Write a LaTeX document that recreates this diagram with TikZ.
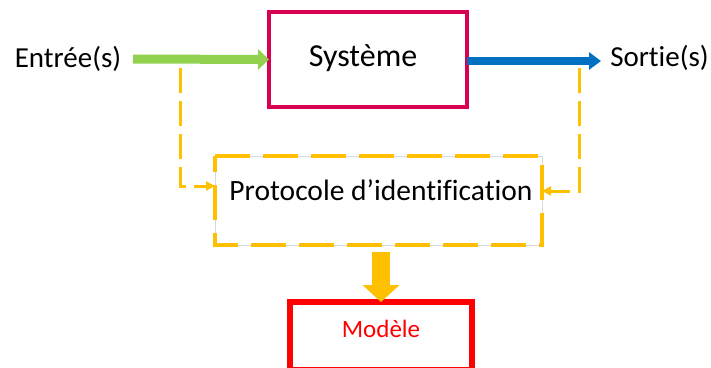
\documentclass[tikz,border=0pt]{standalone}
\usepackage{fontspec}
\setmainfont{Carlito}[Ligatures=NoCommon]
\usetikzlibrary{arrows.meta,calc}
\definecolor{sysred}{RGB}{216,0,80}
\definecolor{mgreen}{HTML}{92D050}
\definecolor{mblue}{HTML}{0070C0}
\definecolor{mgold}{HTML}{FFC000}
\definecolor{mred}{HTML}{FF0000}
\definecolor{lgray}{HTML}{D9D9D9}
\begin{document}
\begin{tikzpicture}[x=1pt,y=-1pt,
  box/.style={draw, rectangle, inner sep=0pt, outer sep=0pt},
  lbl/.style={anchor=base, inner sep=0pt, font=\fontsize{29}{34}\selectfont},
  fb/.style={line width=3pt, mgold, dash pattern=on 25pt off 8pt, -{Triangle[length=9pt,width=9pt]}}]
\fill[white] (0,0) rectangle (711,367);
\useasboundingbox (0,0) rectangle (711,367);
% boxes
\node[box, sysred, line width=4pt, minimum width=198pt, minimum height=95pt] (sys) at (368,59.5) {};
\node[box, lgray, line width=1pt, minimum width=327pt, minimum height=89pt] (proto) at (378.5,200.5) {};
\draw[mgold, line width=4pt, dash pattern=on 35pt off 13pt] (proto.north west) -- (proto.north east) -- (proto.south east) -- (proto.south west) -- cycle;
\node[box, mred, line width=6pt, minimum width=182pt, minimum height=68pt] (mod) at (381,336) {};
% texts
\node[lbl] (in) at (68,67) {Entrée(s)};
\node[lbl] (out) at (659.5,66) {Sortie(s)};
\node[lbl, font=\fontsize{32}{38}\selectfont] (tsys) at (363,66) {Système};
\node[lbl, font=\fontsize{29.5}{35}\selectfont] (tproto) at (381,200) {Protocole d’identification};
\node[lbl, mred, font=\fontsize{25}{30}\selectfont] (tmod) at (381,337) {Modèle};
% coordinates
\coordinate (gstart) at (133,59);
\coordinate (bend) at (601,61);
\coordinate (lfb) at (180,68);
\coordinate (rfb) at (579,68);
\coordinate (ystart) at (381,252);
% main flow arrows
\draw[mgreen, line width=9pt, -{Triangle[length=11pt,width=20pt]}] (gstart) -- (sys.west);
\draw[mblue, line width=8pt, -{Triangle[length=12pt,width=17pt]}] ([yshift=-1.5pt]sys.east) -- (bend);
% feedback dashed
\draw[fb] (lfb) |- ([yshift=14.5pt]proto.west);
\draw[fb] (rfb) |- ([yshift=9.5pt]proto.east);
% block arrow to model
\draw[mgold, line width=18pt, -{Triangle[length=17pt,width=36pt]}] (ystart) -- (ystart |- mod.north);
\end{tikzpicture}
\end{document}
